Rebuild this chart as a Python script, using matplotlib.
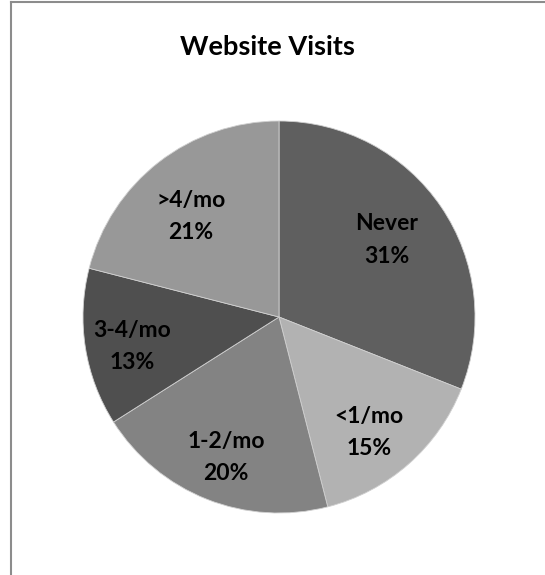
import numpy as np
import matplotlib.pyplot as plt
from matplotlib.lines import Line2D

labels = ["Never", "<1/mo", "1-2/mo", "3-4/mo", ">4/mo"]
shares = [31, 15, 20, 13, 21]
colors = ["#5f5f5f", "#b2b2b2", "#838383", "#4f4f4f", "#989898"]
# label placement: distance from centre (fraction of radius) and nudge in degrees
label_r = [0.675, 0.745, 0.765, 0.765, 0.68]
label_nudge = [1.4, -3.4, 0.9, 2.2, 3.5]

plt.rcParams['font.family'] = ['Lato', 'DejaVu Sans']

fig = plt.figure(figsize=(5.45, 5.75), dpi=100)
ax = fig.add_axes([83 / 545, 62 / 575, 392 / 545, 392 / 575])

wedges, _ = ax.pie(shares, colors=colors, startangle=90, counterclock=False,
                   wedgeprops=dict(edgecolor="#d0d0d0", linewidth=0.6))

for w, lab, s, r, d in zip(wedges, labels, shares, label_r, label_nudge):
    mid = np.deg2rad((w.theta1 + w.theta2) / 2 + d)
    ax.text(r * np.cos(mid), r * np.sin(mid), f"{lab}\n{s}%",
            ha="center", va="center", fontsize=16.5, fontweight="bold",
            linespacing=1.65, color="black")

ax.set_xlim(-1, 1)
ax.set_ylim(-1, 1)
ax.set_aspect("equal")

fig.text(267 / 545, 1 - 47 / 575, "Website Visits", ha="center", va="center",
         fontsize=19.5, fontweight="bold")

# chart area border
fig.add_artist(Line2D([10.5 / 545, 10.5 / 545], [0, 1 - 1.5 / 575],
                      color="#8c8c8c", lw=1.5, transform=fig.transFigure))
fig.add_artist(Line2D([10.5 / 545, 1], [1 - 1.5 / 575, 1 - 1.5 / 575],
                      color="#8c8c8c", lw=1.5, transform=fig.transFigure))

fig.savefig("out.png", dpi=100)
